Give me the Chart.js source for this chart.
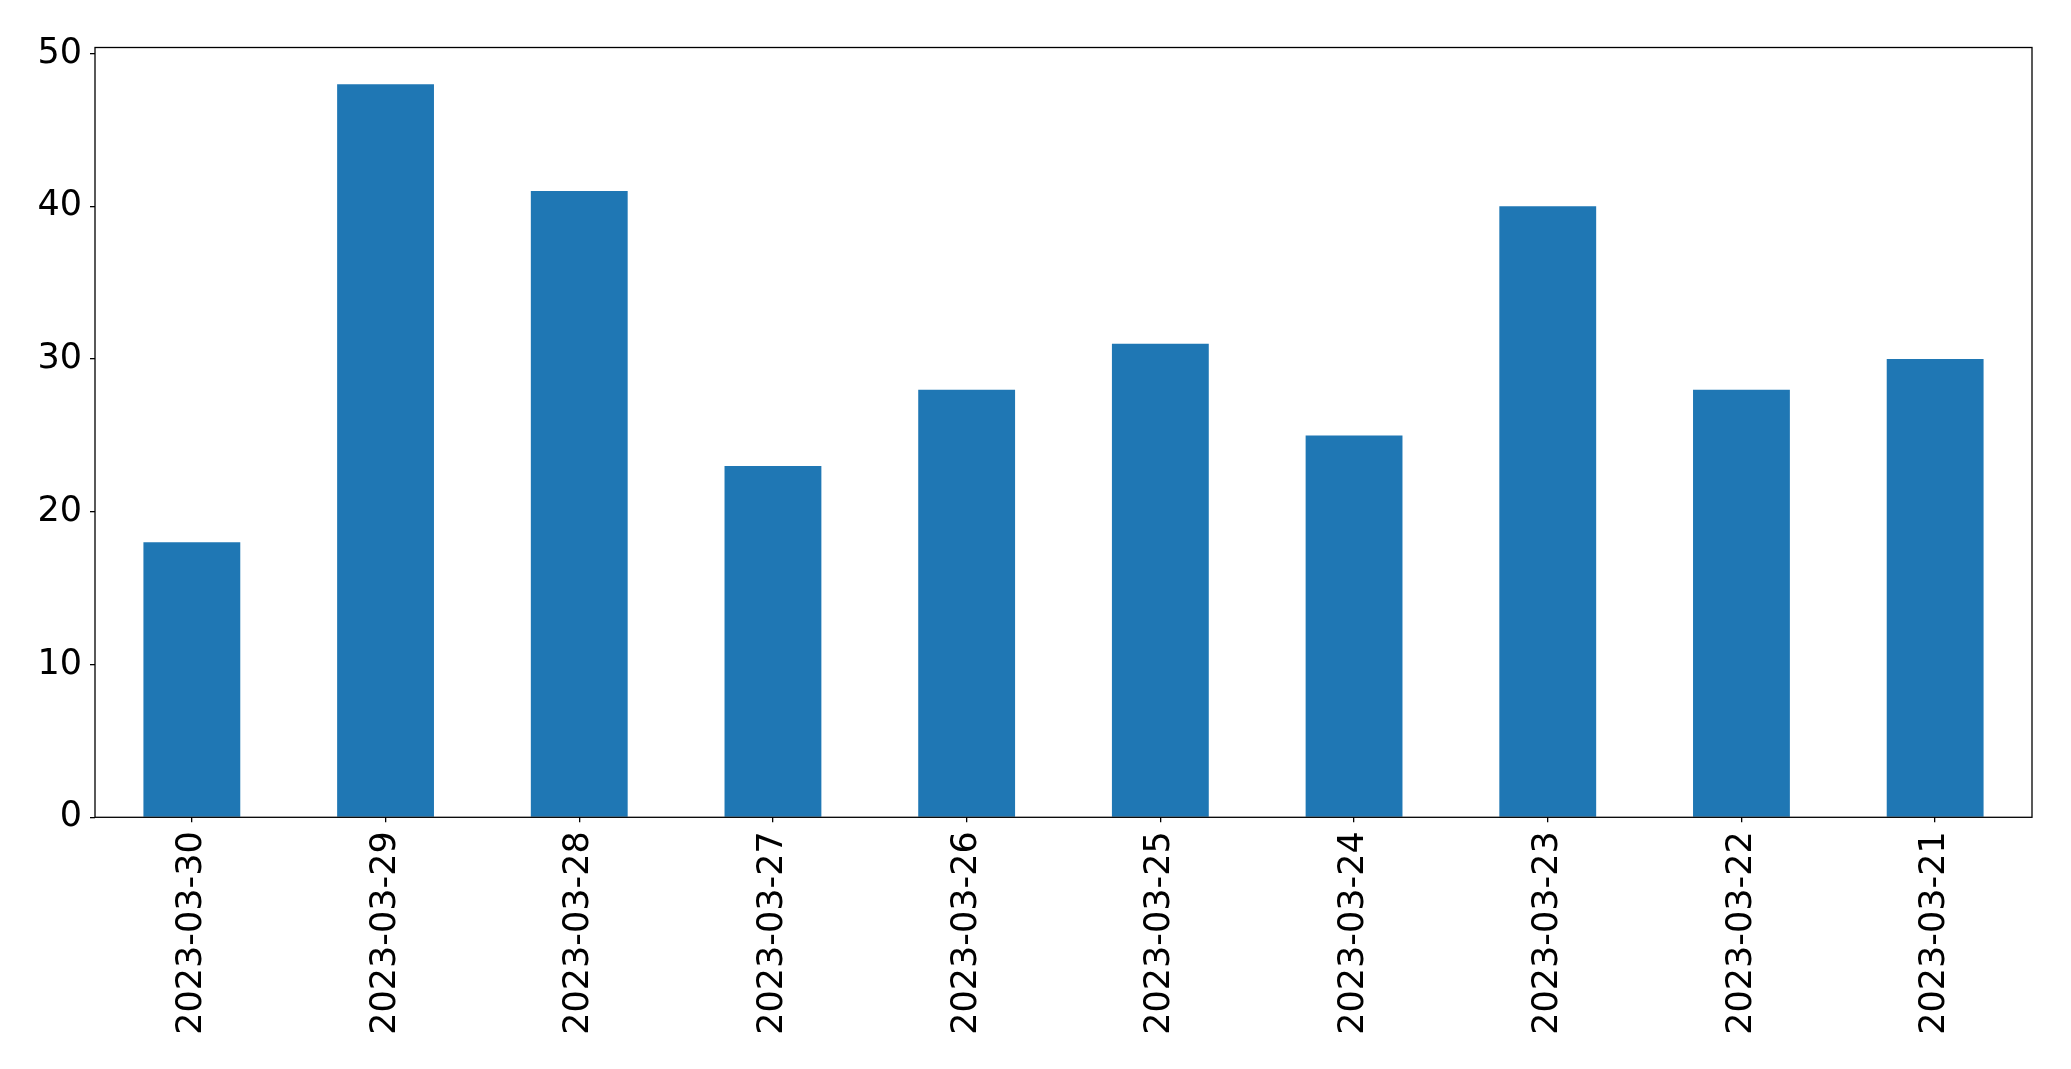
<!DOCTYPE html>
<html>
<head>
<meta charset="utf-8">
<script src="https://cdn.jsdelivr.net/npm/chart.js@4/dist/chart.umd.min.js"></script>
<style>
  html, body { margin:0; padding:0; background:#fff; }
  #wrap { width:2071px; height:1069px; position:relative; }
</style>
</head>
<body>
<div id="wrap"><canvas id="chart"></canvas></div>
<script>
const dates = ["2023-03-30","2023-03-29","2023-03-28","2023-03-27","2023-03-26",
               "2023-03-25","2023-03-24","2023-03-23","2023-03-22","2023-03-21"];
const counts = [18,48,41,23,28,31,25,40,28,30];
const yTicks = [0,10,20,30,40,50];
const yMax = 50.4;

/* box around the plot area, like matplotlib's spines */
const frame = {
  id: "frame",
  afterDatasetsDraw(c){
    const a = c.chartArea, ctx = c.ctx;
    ctx.save();
    ctx.strokeStyle = "#000";
    ctx.lineWidth = 1.3;
    ctx.strokeRect(a.left, a.top, a.right - a.left, a.bottom - a.top);
    ctx.restore();
  }
};

Chart.defaults.font.family = "DejaVu Sans";
Chart.defaults.color = "#000";

new Chart(document.getElementById("chart"), {
  type: "bar",
  data: {
    labels: dates,
    datasets: [{
      data: counts,
      backgroundColor: "#1f77b4",
      barPercentage: 0.5,
      categoryPercentage: 1.0
    }]
  },
  options: {
    responsive: true,
    maintainAspectRatio: false,
    animation: false,
    layout: { padding: { top: 47.5, right: 39, left: 0, bottom: 0 } },
    plugins: { legend: { display: false }, tooltip: { enabled: false } },
    scales: {
      x: {
        grid: { offset: false, drawOnChartArea: false, tickLength: 5, color: "#000", lineWidth: 1.3 },
        border: { display: false },
        ticks: { font: { size: 35 }, maxRotation: 90, minRotation: 90, padding: 9, autoSkip: false },
        afterFit(s){ s.height = 251.7; }
      },
      y: {
        min: 0,
        max: yMax,
        grid: { drawOnChartArea: false, tickLength: 5, color: "#000", lineWidth: 1.3 },
        border: { display: false },
        ticks: { font: { size: 35 }, padding: 8 },
        afterBuildTicks(s){ s.ticks = yTicks.map(v => ({ value: v })); },
        afterFit(s){ s.width = 95; }
      }
    }
  },
  plugins: [frame]
});
</script>
</body>
</html>
